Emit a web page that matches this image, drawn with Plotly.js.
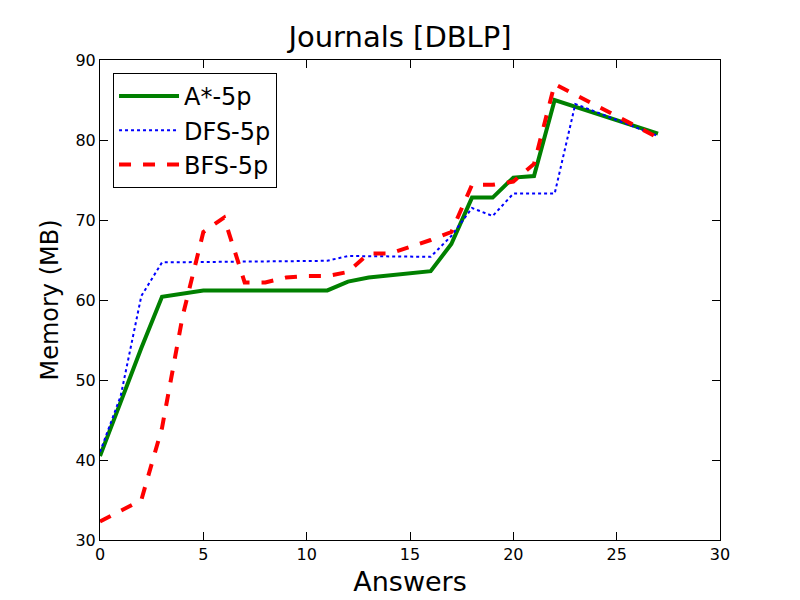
<html><head><script src="https://cdn.plot.ly/plotly-3.0.1.min.js"></script></head>
<body style="margin:0"><div id="plot" style="width:800px;height:600px"></div>
<script>
// Values
let astarX = [0, 2, 3, 5, 11, 12, 13, 16, 17, 18, 19, 20, 21, 22, 27];
let astarY = [40.5, 54, 60.4, 61.2, 61.2, 62.3, 62.8, 63.6, 67, 72.8, 72.8, 75.3, 75.5, 85, 80.8];
let dfsX = [0, 1, 2, 3, 11, 12, 16, 17, 18, 19, 20, 22, 23, 27];
let dfsY = [41, 48, 60.5, 64.7, 64.9, 65.5, 65.4, 68, 71.5, 70.5, 73.3, 73.3, 84.5, 80.5];
let bfsX = [0, 2, 3, 4, 5, 6, 7, 8, 9, 10, 11, 12, 13, 14, 16, 17, 18, 19, 20, 21, 22, 27];
let bfsY = [32.3, 35, 44, 58, 68.5, 70.3, 62.2, 62.2, 62.8, 63, 63, 63.5, 65.8, 65.8, 67.5, 68.5, 74.4, 74.4, 74.8, 77, 87, 80.3];

let traces = [
    { x: astarX, y: astarY, name: 'A*-5p', mode: 'lines', line: { color: 'green', width: 4 } },
    { x: dfsX, y: dfsY, name: 'DFS-5p', mode: 'lines', line: { color: 'blue', width: 2, dash: 'dot' } },
    { x: bfsX, y: bfsY, name: 'BFS-5p', mode: 'lines', line: { color: 'red', width: 4, dash: 'dash' } }
];

let axis = {
    showgrid: false, zeroline: false, showline: true, mirror: 'ticks',
    linecolor: 'black', linewidth: 1, ticks: 'inside', ticklen: 8, tickcolor: 'black',
    tickfont: { size: 16, color: 'black' }
};

let layout = {
    font: { family: 'DejaVu Sans' },
    margin: { l: 100, r: 80, t: 60, b: 60 },
    paper_bgcolor: 'white', plot_bgcolor: 'white',
    title: { text: 'Journals [DBLP]', font: { size: 29, color: 'black' }, x: 0.5, xanchor: 'center', y: 0.955 },
    xaxis: Object.assign({}, axis, { range: [0, 30], dtick: 5, title: { text: 'Answers', font: { size: 27, color: 'black' }, standoff: 8 } }),
    yaxis: Object.assign({}, axis, { range: [30, 90], dtick: 10, title: { text: 'Memory (MB)', font: { size: 24, color: 'black' }, standoff: 10 } }),
    showlegend: true,
    legend: {
        x: 0.021, y: 0.973, xanchor: 'left', yanchor: 'top',
        bordercolor: 'black', borderwidth: 1, bgcolor: 'white',
        font: { size: 24, color: 'black' }, itemwidth: 60
    }
};

Plotly.newPlot('plot', traces, layout, { displayModeBar: false });
</script></body></html>
